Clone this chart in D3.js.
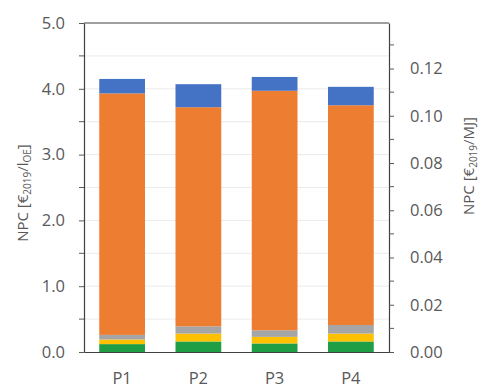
<!DOCTYPE html>
<html>
<head>
<meta charset="utf-8">
<script src="https://cdn.jsdelivr.net/npm/d3@7"></script>
<style>
  html, body { margin: 0; padding: 0; background: #fff; }
  svg { display: block; }
  text { font-family: "Open Sans", "Liberation Sans", sans-serif; fill: #595959; }
</style>
</head>
<body>
<svg id="chart" width="481" height="390"></svg>
<script>
// Pathways compared
const categories = ["P1", "P2", "P3", "P4"];

// Cost components stacked from the bottom up, in €2019 per litre of oil equivalent
const seriesNames = ["green", "yellow", "grey", "orange", "blue"];
const greenValues  = [0.12, 0.16, 0.13, 0.16];
const yellowValues = [0.07, 0.12, 0.10, 0.12];
const greyValues   = [0.07, 0.11, 0.10, 0.13];
const orangeValues = [3.67, 3.33, 3.64, 3.34];
const blueValues   = [0.22, 0.35, 0.21, 0.28];
const seriesColors = ["#1f9e45", "#ffc000", "#a5a5a5", "#ed7d31", "#4472c4"];

// Axis ticks
const leftTicks = [0, 1, 2, 3, 4, 5];
const leftMinorTicks = [0.5, 1.5, 2.5, 3.5, 4.5];
const rightTicks = [0, 0.02, 0.04, 0.06, 0.08, 0.10, 0.12];
const rightMinorTicks = [0.01, 0.03, 0.05, 0.07, 0.09, 0.11, 0.13];

// Energy content used to convert €/l_OE to €/MJ
const mjPerLitre = 35.9;

const svg = d3.select("#chart");
const m = { left: 84, right: 389, top: 23, bottom: 352 };

const x = d3.scaleBand().domain(categories).range([m.left, m.right])
  .paddingInner(0.4).paddingOuter(0.2);
const y = d3.scaleLinear().domain([0, 5]).range([m.bottom, m.top]);
const y2 = d3.scaleLinear().domain([0, 5 / mjPerLitre]).range([m.bottom, m.top]);

// Gridlines every 0.5
svg.append("g").selectAll("line")
  .data(leftTicks.concat(leftMinorTicks).filter(d => d > 0 && d < 5))
  .join("line")
  .attr("x1", m.left).attr("x2", m.right)
  .attr("y1", d => y(d)).attr("y2", d => y(d))
  .attr("stroke", "#ebebeb").attr("stroke-width", 1);

// Stacked bars
const rows = categories.map((c, i) => ({
  cat: c,
  green: greenValues[i], yellow: yellowValues[i], grey: greyValues[i],
  orange: orangeValues[i], blue: blueValues[i]
}));
const stacked = d3.stack().keys(seriesNames)(rows);

svg.append("g").selectAll("g")
  .data(stacked)
  .join("g")
  .attr("fill", (d, i) => seriesColors[i])
  .selectAll("rect")
  .data(d => d)
  .join("rect")
  .attr("x", d => x(d.data.cat))
  .attr("width", x.bandwidth())
  .attr("y", d => y(d[1]))
  .attr("height", d => y(d[0]) - y(d[1]));

// Frame top line
svg.append("line")
  .attr("x1", m.left).attr("x2", m.right)
  .attr("y1", m.top).attr("y2", m.top)
  .attr("stroke", "#404040").attr("stroke-width", 1.2);

const tickFont = 16.5;

// Left axis
const leftAxis = svg.append("g").attr("transform", `translate(${m.left},0)`)
  .call(d3.axisLeft(y).tickValues(leftTicks).tickFormat(d3.format(".1f"))
    .tickSize(5).tickSizeOuter(0).tickPadding(14));
svg.append("g").attr("transform", `translate(${m.left},0)`)
  .selectAll("line").data(leftMinorTicks).join("line")
  .attr("x1", -5).attr("x2", 0)
  .attr("y1", d => y(d)).attr("y2", d => y(d))
  .attr("stroke", "#595959");

// Right axis
const rightAxis = svg.append("g").attr("transform", `translate(${m.right},0)`)
  .call(d3.axisRight(y2).tickValues(rightTicks).tickFormat(d3.format(".2f"))
    .tickSize(5).tickSizeOuter(0).tickPadding(16));
svg.append("g").attr("transform", `translate(${m.right},0)`)
  .selectAll("line").data(rightMinorTicks).join("line")
  .attr("x1", 0).attr("x2", 5)
  .attr("y1", d => y2(d)).attr("y2", d => y2(d))
  .attr("stroke", "#595959");

// Bottom axis
const bottomAxis = svg.append("g").attr("transform", `translate(0,${m.bottom})`)
  .call(d3.axisBottom(x).tickSize(0).tickPadding(20));

[leftAxis, rightAxis, bottomAxis].forEach(g => {
  g.selectAll("path").attr("stroke", "#404040").attr("stroke-width", 1.2);
  g.selectAll(".tick line").attr("stroke", "#595959");
  g.selectAll("text").attr("font-size", tickFont).attr("fill", "#595959")
    .attr("font-family", "'Open Sans', 'Liberation Sans', sans-serif");
});

// Axis titles
const leftTitle = svg.append("text")
  .attr("transform", "translate(28,193) rotate(-90)")
  .attr("text-anchor", "middle").attr("font-size", 15).attr("fill", "#404040");
leftTitle.append("tspan").text("NPC [€");
leftTitle.append("tspan").attr("font-size", 10).attr("dy", 3).text("2019");
leftTitle.append("tspan").attr("dy", -3).text("/l");
leftTitle.append("tspan").attr("font-size", 10).attr("dy", 3).text("OE");
leftTitle.append("tspan").attr("dy", -3).text("]");

const rightTitle = svg.append("text")
  .attr("transform", "translate(474,166) rotate(-90)")
  .attr("text-anchor", "middle").attr("font-size", 15).attr("fill", "#404040");
rightTitle.append("tspan").text("NPC [€");
rightTitle.append("tspan").attr("font-size", 10).attr("dy", 3).text("2019");
rightTitle.append("tspan").attr("dy", -3).text("/MJ]");
</script>
</body>
</html>
